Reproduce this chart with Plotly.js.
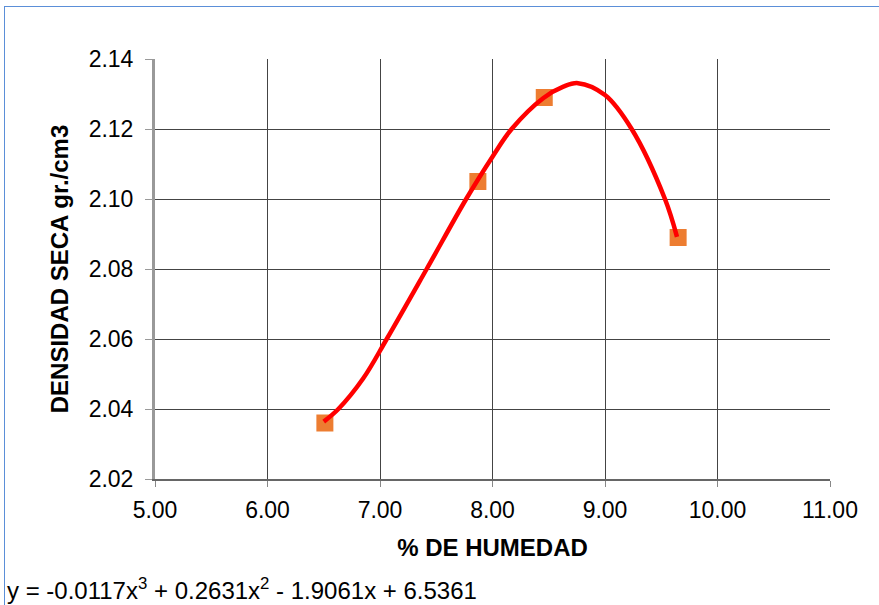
<!DOCTYPE html>
<html>
<head>
<meta charset="utf-8">
<script src="https://cdn.plot.ly/plotly-3.0.1.min.js"></script>
<style>
  html, body { margin: 0; padding: 0; background: #fff; }
  #wrap { position: relative; width: 879px; height: 605px; overflow: hidden; }
  #chart { position: absolute; left: 0; top: 0; width: 879px; height: 605px; }
  #frame { position: absolute; left: 4px; top: 6px; width: 2000px; height: 2000px;
           border-left: 1px solid #5b8fd8; border-top: 1px solid #5b8fd8; pointer-events: none; }
</style>
</head>
<body>
<div id="wrap">
  <div id="chart"></div>
  <div id="frame"></div>
</div>
<script>
// Measured points
const humedad = [6.51, 7.87, 8.46, 9.65];
const densidad = [2.036, 2.105, 2.129, 2.089];

// Trend curve (gridline crossings and peak)
const curveX = [6.50, 6.63, 6.85, 7.06, 7.415, 7.766, 8.00, 8.17, 8.45, 8.63, 8.76, 9.00, 9.237, 9.533, 9.64];
const curveY = [2.0364, 2.0400, 2.0487, 2.0600, 2.0800, 2.1000, 2.1121, 2.1200, 2.1288, 2.1321, 2.1331, 2.1297, 2.1200, 2.1000, 2.0892];

const xTickVals = [5, 6, 7, 8, 9, 10, 11];
const xTickText = ['5.00', '6.00', '7.00', '8.00', '9.00', '10.00', '11.00'];
const yTickVals = [2.02, 2.04, 2.06, 2.08, 2.10, 2.12, 2.14];
const yTickText = ['2.02', '2.04', '2.06', '2.08', '2.10', '2.12', '2.14'];

const xTitle = '% DE HUMEDAD';
const yTitle = 'DENSIDAD SECA gr./cm3';
const equation = 'y = -0.0117x<sup>3</sup> + 0.2631x<sup>2</sup> - 1.9061x + 6.5361';

const font = 'Liberation Sans, Arial, sans-serif';

const traces = [
  {
    x: humedad, y: densidad, type: 'scatter', mode: 'markers',
    marker: { symbol: 'square', size: 17, color: '#ED7D31', line: { width: 0 } },
    hoverinfo: 'x+y', showlegend: false
  },
  {
    x: curveX, y: curveY, type: 'scatter', mode: 'lines',
    line: { color: '#FF0000', width: 4.5, shape: 'spline', smoothing: 1 },
    hoverinfo: 'skip', showlegend: false
  }
];

const layout = {
  width: 879, height: 605,
  margin: { l: 155, r: 49, t: 59, b: 126 },
  paper_bgcolor: '#ffffff', plot_bgcolor: '#ffffff',
  font: { family: font, size: 23, color: '#000' },
  showlegend: false,
  xaxis: {
    range: [5, 11], tickmode: 'array', tickvals: xTickVals, ticktext: xTickText,
    showgrid: true, gridcolor: '#444', gridwidth: 1,
    showline: true, linecolor: '#666', linewidth: 2,
    ticks: 'outside', ticklen: 6, tickcolor: '#888', tickwidth: 1,
    ticklabelstandoff: 3,
    zeroline: false, fixedrange: true,
    tickfont: { family: font, size: 23, color: '#000' },
    title: { text: '<b>' + xTitle + '</b>', font: { family: font, size: 24, color: '#000' }, standoff: 18 }
  },
  yaxis: {
    range: [2.02, 2.14], tickmode: 'array', tickvals: yTickVals, ticktext: yTickText,
    showgrid: true, gridcolor: '#444', gridwidth: 1,
    showline: true, linecolor: '#999', linewidth: 3,
    ticks: 'outside', ticklen: 7, tickcolor: '#999', tickwidth: 1,
    ticklabelstandoff: 7,
    zeroline: false, fixedrange: true,
    tickfont: { family: font, size: 23, color: '#000' },
    title: { text: '<b>' + yTitle + '</b>', font: { family: font, size: 24, color: '#000' }, standoff: 14 }
  },
  annotations: [
    {
      text: equation, xref: 'paper', yref: 'paper',
      x: (5 - 155) / 675, y: (479 - 589) / 420,
      xanchor: 'left', yanchor: 'middle', showarrow: false,
      font: { family: font, size: 24, color: '#000' }
    }
  ]
};

Plotly.newPlot('chart', traces, layout, { displayModeBar: false, staticPlot: true });
</script>
</body>
</html>
